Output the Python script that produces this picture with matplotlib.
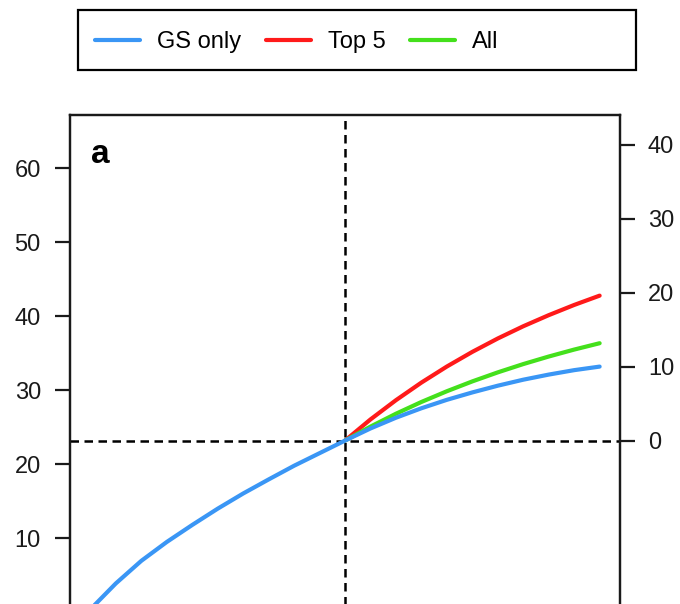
import matplotlib
matplotlib.use("Agg")
import matplotlib.pyplot as plt
from matplotlib.patches import Rectangle

plt.rcParams['font.family'] = ['Liberation Sans', 'DejaVu Sans']

# curve readings (x from -1 to 1, left axis units)
x_full = [-1.0, -0.9, -0.8, -0.7, -0.6, -0.5, -0.4, -0.3, -0.2, -0.1,
          0.0, 0.1, 0.2, 0.3, 0.4, 0.5, 0.6, 0.7, 0.8, 0.9, 1.0]
gs_only = [0.4, 3.9, 6.95, 9.5, 11.8, 14.0, 16.05, 17.95, 19.8, 21.5,
           23.2, 24.84, 26.29, 27.57, 28.71, 29.71, 30.62, 31.43, 32.12, 32.72, 33.2]
x_right = [0.0, 0.1, 0.2, 0.3, 0.4, 0.5, 0.6, 0.7, 0.8, 0.9, 1.0]
top5 = [23.2, 26.06, 28.66, 31.04, 33.21, 35.19, 37.0, 38.65, 40.15, 41.53, 42.79]
all_ = [23.2, 25.09, 26.83, 28.42, 29.87, 31.2, 32.42, 33.54, 34.56, 35.5, 36.36]

baseline = 23.2
left_ticks = [0, 10, 20, 30, 40, 50, 60]
right_ticks = [0, 10, 20, 30, 40]
series_names = ["GS only", "Top 5", "All"]
colors = ["#3a96f5", "#ff1a1a", "#44e01c"]

W, H = 680, 604
fig = plt.figure(figsize=(W / 100, H / 100), dpi=100)

# axes box in pixels: left 70, right 620, top 115, bottom below the crop
ylo, yhi = -2.5, 67.2
px_per_unit = 7.4
ax_top = 115
ax_bot = ax_top + (yhi - ylo) * px_per_unit
ax = fig.add_axes([70 / W, 1 - ax_bot / H, 550 / W, (ax_bot - ax_top) / H])

ax.axhline(baseline, color='black', lw=1.8, dashes=[3.4, 2.2], zorder=1)
ax.axvline(0, color='black', lw=1.8, dashes=[3.4, 2.2], zorder=1)

lw = 3.0
l2, = ax.plot(x_right, top5, color=colors[1], lw=lw, solid_capstyle='round')
l3, = ax.plot(x_right, all_, color=colors[2], lw=lw, solid_capstyle='round')
l1, = ax.plot(x_full, gs_only, color=colors[0], lw=lw, solid_capstyle='round')

ax.set_xlim(-1.08, 1.08)
ax.set_ylim(ylo, yhi)
ax.set_xticks([])
ax.set_yticks(left_ticks)
ax.tick_params(axis='y', direction='out', length=11, width=1.6, pad=10,
               labelsize=17, colors='#1a1a1a')

ax2 = ax.twinx()
ax2.set_ylim(ylo - baseline, yhi - baseline)
ax2.set_yticks(right_ticks)
ax2.tick_params(axis='y', direction='out', length=11, width=1.6, pad=9,
                labelsize=17, colors='#1a1a1a')
ax2.set_xticks([])

for a in (ax, ax2):
    for s in a.spines.values():
        s.set_linewidth(1.6)
        s.set_color('#1a1a1a')

ax.text(0.038, 0.907, "a", transform=ax.transAxes, fontsize=24,
        fontweight='bold', va='baseline', ha='left')

# legend box drawn separately (wider than its entries, as in the original)
fig.patches.append(Rectangle((78 / W, 1 - 70 / H), 558 / W, 60 / H,
                             transform=fig.transFigure, fill=False,
                             edgecolor='black', lw=1.6))
leg = fig.legend([l1, l2, l3], series_names, ncol=3, loc='center left',
                 bbox_to_anchor=(95 / W, 1 - 42 / H),
                 fontsize=17, handlelength=1.9, handletextpad=0.72,
                 columnspacing=1.05, frameon=False, borderpad=0,
                 borderaxespad=0)

fig.savefig("out.png", dpi=100)
